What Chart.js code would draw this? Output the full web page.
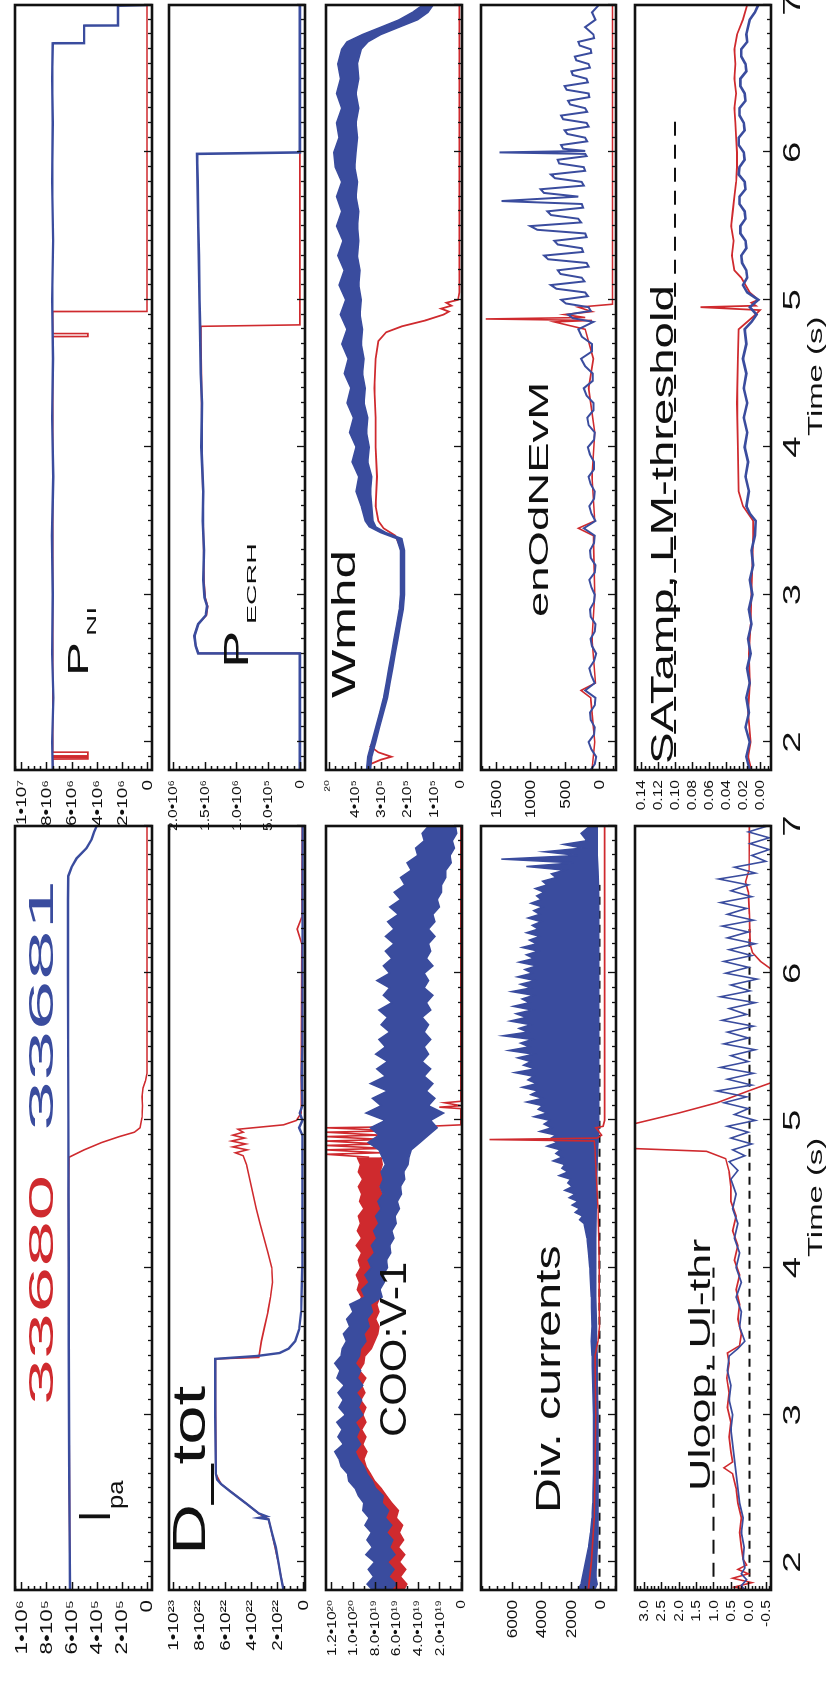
<!DOCTYPE html>
<html>
<head>
<meta charset="utf-8">
<script src="https://cdn.jsdelivr.net/npm/chart.js@4.4.0/dist/chart.umd.min.js"></script>
<style>
html, body { margin: 0; padding: 0; background: #fff; width: 828px; height: 1685px; overflow: hidden; }
#fig { position: absolute; left: 0; top: 0; width: 1685px; height: 828px; transform-origin: 0 0; transform: translate(0, 1685px) rotate(-90deg); }
#fig canvas { position: absolute; }
.lbl { position: absolute; white-space: nowrap; font-family: 'Liberation Sans', Arial, sans-serif; line-height: 1; }
.lbl span { display: inline-block; transform-origin: 0 50%; }
</style>
</head>
<body>
<div id="fig"></div>
<script>
// time axis (s)
const T_MIN = 1.81, T_MAX = 7.0;
const timeTicks = [2, 3, 4, 5, 6, 7];

// ---- I_pa ----
const ipaTicks = [0, 2e5, 4e5, 6e5, 8e5, 1e6];
const ipaLabels = ['0', '2•10⁵', '4•10⁵', '6•10⁵', '8•10⁵', '1•10⁶'];
const ipaBlue = [[1.81,6.12e5],[2.2,6.15e5],[2.6,6.18e5],[3.0,6.2e5],[3.5,6.22e5],[4.0,6.22e5],[4.5,6.24e5],[5.0,6.25e5],[5.5,6.27e5],[6.0,6.28e5],[6.5,6.28e5],[6.66,6.26e5],[6.72,6.0e5],[6.78,5.6e5],[6.85,4.8e5],[6.91,4.4e5],[6.96,4.2e5],[7.0,4.0e5]];
const ipaRed = [[1.81,6.12e5],[2.5,6.17e5],[3.5,6.22e5],[4.5,6.24e5],[4.75,6.2e5],[4.8,5.0e5],[4.85,3.6e5],[4.89,2.2e5],[4.92,1.0e5],[4.95,0.55e5],[5.02,0.4e5],[5.1,0.35e5],[5.16,0.4e5],[5.22,0.32e5],[5.27,0.12e5],[5.32,0],[7.0,0]];

// ---- P_NI ----
const pniTicks = [0, 2e6, 4e6, 6e6, 8e6, 1e7];
const pniLabels = ['0', '2•10⁶', '4•10⁶', '6•10⁶', '8•10⁶', '1•10⁷'];
const pniBlue = [[1.81,7.5e6],[2.0,7.55e6],[2.3,7.45e6],[2.6,7.55e6],[3.0,7.5e6],[3.4,7.56e6],[3.8,7.46e6],[4.2,7.55e6],[4.6,7.48e6],[5.0,7.55e6],[5.4,7.47e6],[5.8,7.55e6],[6.2,7.5e6],[6.5,7.55e6],[6.74,7.5e6],[6.741,5.0e6],[6.86,5.0e6],[6.861,2.3e6],[6.995,2.3e6],[7.0,0]];
const pniRed = [[1.81,7.5e6],[1.884,7.5e6],[1.885,4.7e6],[1.895,4.7e6],[1.896,7.5e6],[1.905,7.5e6],[1.906,4.7e6],[1.93,4.7e6],[1.931,7.5e6],[4.75,7.5e6],[4.751,4.7e6],[4.77,4.7e6],[4.771,7.5e6],[4.92,7.5e6],[4.921,0],[7.0,0]];

// ---- D_tot ----
const dtotTicks = [0, 2e22, 4e22, 6e22, 8e22, 1e23];
const dtotLabels = ['0', '2•10²²', '4•10²²', '6•10²²', '8•10²²', '1•10²³'];
const dtotBlue = [[1.81,1.5e22],[1.9,1.7e22],[2.0,1.9e22],[2.1,2.1e22],[2.2,2.4e22],[2.29,2.65e22],[2.3,3.4e22],[2.31,2.8e22],[2.33,3.4e22],[2.4,4.4e22],[2.48,5.6e22],[2.53,6.3e22],[2.56,6.6e22],[2.6,6.7e22],[3.0,6.75e22],[3.38,6.75e22],[3.4,3.5e22],[3.42,1.8e22],[3.45,1.1e22],[3.5,0.6e22],[3.58,0.3e22],[3.7,0.15e22],[4.0,0.06e22],[4.9,0.05e22],[4.95,0.3e22],[5.0,0.05e22],[5.05,0.25e22],[5.1,0.05e22],[5.3,0.1e22],[5.5,0.05e22],[7.0,0.03e22]];
const dtotRed = [[1.81,1.5e22],[2.0,1.9e22],[2.2,2.4e22],[2.29,2.65e22],[2.33,3.4e22],[2.4,4.4e22],[2.53,6.3e22],[2.6,6.7e22],[3.38,6.75e22],[3.39,3.4e22],[3.5,3.2e22],[3.6,2.95e22],[3.7,2.7e22],[3.8,2.5e22],[3.9,2.35e22],[4.0,2.4e22],[4.1,2.7e22],[4.2,3.0e22],[4.3,3.3e22],[4.4,3.6e22],[4.5,3.85e22],[4.6,4.1e22],[4.7,4.35e22],[4.76,4.6e22],[4.78,5.2e22],[4.8,4.3e22],[4.82,5.4e22],[4.84,4.4e22],[4.86,5.5e22],[4.88,4.5e22],[4.9,5.4e22],[4.92,4.6e22],[4.94,5.0e22],[4.97,1.5e22],[5.0,0.5e22],[5.05,0.15e22],[6.2,0.1e22],[6.3,0.45e22],[6.38,0.1e22],[7.0,0.05e22]];

// ---- P_ECRH ----
const pecTicks = [0, 5e5, 1e6, 1.5e6, 2e6];
const pecLabels = ['0', '5.0•10⁵', '1.0•10⁶', '1.5•10⁶', '2.0•10⁶'];
const pecBlue = [[1.81,0],[2.6,0],[2.601,1.6e6],[2.65,1.64e6],[2.72,1.66e6],[2.8,1.6e6],[2.86,1.48e6],[2.92,1.46e6],[2.98,1.5e6],[3.1,1.52e6],[3.3,1.51e6],[3.5,1.53e6],[3.7,1.52e6],[4.0,1.55e6],[4.3,1.54e6],[4.5,1.56e6],[4.8,1.57e6],[5.0,1.58e6],[5.3,1.59e6],[5.5,1.6e6],[5.8,1.61e6],[5.99,1.62e6],[6.0,0],[7.0,0]];
const pecRed = [[1.81,0],[2.6,0],[2.601,1.6e6],[2.65,1.64e6],[2.72,1.66e6],[2.8,1.6e6],[2.86,1.47e6],[2.92,1.45e6],[2.98,1.49e6],[3.1,1.51e6],[3.5,1.52e6],[4.0,1.54e6],[4.5,1.55e6],[4.82,1.56e6],[4.83,0],[7.0,0]];

// ---- COO:V-1 (values in 1e19) ----
const cooTicks = [0, 2e19, 4e19, 6e19, 8e19, 1e20, 1.2e20];
const cooLabels = ['0', '2.0•10¹⁹', '4.0•10¹⁹', '6.0•10¹⁹', '8.0•10¹⁹', '1.0•10²⁰', '1.2•10²⁰'];
const cooT = [1.81,1.85,1.9,1.95,2.0,2.05,2.1,2.15,2.2,2.25,2.3,2.35,2.4,2.45,2.5,2.55,2.6,2.65,2.7,2.75,2.8,2.85,2.9,2.95,3.0,3.05,3.1,3.15,3.2,3.25,3.3,3.35,3.4,3.45,3.5,3.55,3.6,3.65,3.7,3.75,3.8,3.85,3.9,3.95,4.0,4.05,4.1,4.15,4.2,4.25,4.3,4.35,4.4,4.45,4.5,4.55,4.6,4.65,4.7,4.75,
  4.8,4.85,4.9,4.95,5.0,5.05,5.1,5.15,5.2,5.25,5.3,5.35,5.4,5.45,5.5,5.55,5.6,5.65,5.7,5.75,5.8,5.85,5.9,5.95,6.0,6.05,6.1,6.15,6.2,6.25,6.3,6.35,6.4,6.45,6.5,6.55,6.6,6.65,6.7,6.75,6.8,6.85,6.9,6.95,7.0];
const cooBlueHi = [8.2,8.7,8.1,8.6,8.0,8.8,8.2,8.7,8.3,8.9,8.5,9.1,9.0,9.5,9.8,10.4,10.5,11.1,11.3,11.7,10.9,11.4,11.0,11.5,10.7,11.3,10.9,11.4,10.8,11.5,11.2,11.7,11.1,11.0,10.6,10.9,10.3,10.6,10.0,10.3,8.9,9.2,8.5,8.9,8.3,8.6,8.0,8.3,7.8,8.1,7.6,7.9,7.4,7.7,7.2,7.5,7.2,7.4,7.0,7.3,
  7.6,8.6,7.6,8.4,7.0,8.8,7.4,8.2,6.8,8.4,7.0,7.8,6.8,7.9,7.0,7.6,6.6,7.4,6.8,7.6,6.4,7.2,6.6,7.8,6.6,7.2,6.4,7.0,6.2,7.0,6.2,6.8,5.8,6.6,5.6,6.2,5.2,5.6,4.6,5.0,4.0,4.2,3.4,3.6,3.0];
const cooBlueLo = [6.5,6.0,6.7,6.2,6.8,6.1,6.6,6.3,6.9,6.4,7.0,6.7,7.3,7.2,7.9,8.2,8.7,9.0,9.5,9.8,9.3,9.7,9.4,9.8,9.1,9.5,9.2,9.7,9.1,9.6,9.3,9.8,9.4,9.3,8.8,9.0,8.5,8.7,8.2,8.4,7.3,7.5,7.1,7.2,6.8,6.9,6.5,6.6,6.2,6.4,6.0,6.1,5.7,5.9,5.5,5.6,5.2,5.3,4.9,4.8,
  4.6,3.8,3.0,2.2,2.8,1.6,3.0,2.4,3.2,2.6,3.4,2.8,3.6,3.0,3.4,2.8,3.4,3.0,3.6,2.8,3.2,2.6,3.4,3.0,3.4,2.6,3.2,2.8,3.0,2.4,3.0,2.4,2.6,2.0,2.2,1.8,1.8,1.4,1.4,0.9,1.0,0.6,0.8,0.4,0.5];
const cooRedHi = [7.3,7.8,7.1,7.7,7.2,7.9,7.3,7.8,7.4,8.0,7.6,8.1,8.2,8.8,9.2,9.6,9.8,10.2,10.4,10.1,10.6,10.2,10.6,10.1,10.5,10.2,10.8,10.3,10.7,10.2,10.9,10.4,10.6,10.0,9.6,9.3,9.2,9.6,9.3,9.5,9.2,9.6,9.4,9.7,9.3,9.5,9.2,9.7,9.2,9.6,9.3,9.5,9.0,9.4,9.2,9.5,9.1,9.5,9.3,9.6];
const cooRedLo = [5.3,5.0,5.6,5.1,5.7,5.2,5.8,5.3,5.7,5.4,6.0,5.8,6.4,6.9,7.4,8.0,8.4,8.8,9.0,8.7,9.1,8.8,9.2,8.8,9.1,8.8,9.3,8.9,9.2,8.8,9.4,9.0,8.9,8.3,8.0,7.7,7.6,7.9,7.6,7.8,7.5,7.9,7.6,7.8,7.4,7.7,7.5,7.8,7.4,7.7,7.5,7.7,7.2,7.5,7.3,7.6,7.2,7.5,7.3,7.4];
const cooRedEnd = [[4.75,8.5e19],[4.77,12.5e19],[4.78,7.5e19],[4.8,12.5e19],[4.81,7.0e19],[4.83,12.5e19],[4.84,7.5e19],[4.86,12.5e19],[4.87,7.0e19],[4.89,12.5e19],[4.9,7.5e19],[4.92,12.5e19],[4.93,6.0e19],[4.95,12.5e19],[4.96,3e19],[4.97,0],[5.08,0],[5.09,2e19],[5.1,0],[5.12,1.5e19],[5.13,0],[7.0,0]];

// ---- Wmhd ----
const wmTicks = [0, 1e5, 2e5, 3e5, 4e5, 5e5];
const wmLabels = ['0', '1•10⁵', '2•10⁵', '3•10⁵', '4•10⁵', '²⁰'];
const wmBlueHi = [[1.81,3.55e5],[1.9,3.5e5],[2.0,3.35e5],[2.1,3.2e5],[2.2,3.05e5],[2.3,2.9e5],[2.4,2.8e5],[2.5,2.7e5],[2.6,2.6e5],[2.7,2.5e5],[2.8,2.4e5],[2.9,2.3e5],[3.0,2.25e5],[3.1,2.25e5],[3.2,2.25e5],[3.3,2.25e5],[3.38,2.4e5],[3.42,3.0e5],[3.46,3.45e5],[3.5,3.6e5],[3.6,3.75e5],[3.7,3.95e5],[3.8,3.85e5],[3.9,4.1e5],[4.0,3.95e5],[4.1,4.2e5],[4.2,4.05e5],[4.3,4.3e5],[4.4,4.15e5],[4.5,4.4e5],[4.6,4.25e5],[4.7,4.5e5],[4.8,4.3e5],[4.9,4.55e5],[5.0,4.35e5],[5.1,4.6e5],[5.2,4.4e5],[5.3,4.65e5],[5.4,4.45e5],[5.5,4.7e5],[5.6,4.5e5],[5.7,4.7e5],[5.8,4.5e5],[5.9,4.75e5],[6.0,4.8e5],[6.1,4.6e5],[6.2,4.7e5],[6.3,4.5e5],[6.4,4.7e5],[6.5,4.55e5],[6.6,4.65e5],[6.7,4.5e5],[6.75,4.3e5],[6.8,3.7e5],[6.85,3.0e5],[6.9,2.3e5],[6.95,1.8e5],[7.0,1.4e5]];
const wmBlueLo = [[1.81,3.4e5],[1.9,3.35e5],[2.0,3.2e5],[2.1,3.05e5],[2.2,2.9e5],[2.3,2.75e5],[2.4,2.65e5],[2.5,2.55e5],[2.6,2.45e5],[2.7,2.35e5],[2.8,2.25e5],[2.9,2.15e5],[3.0,2.1e5],[3.1,2.1e5],[3.2,2.1e5],[3.3,2.1e5],[3.38,2.2e5],[3.42,2.8e5],[3.46,3.2e5],[3.5,3.3e5],[3.6,3.35e5],[3.7,3.4e5],[3.8,3.35e5],[3.9,3.5e5],[4.0,3.45e5],[4.1,3.55e5],[4.2,3.5e5],[4.3,3.65e5],[4.4,3.6e5],[4.5,3.7e5],[4.6,3.65e5],[4.7,3.75e5],[4.8,3.7e5],[4.9,3.8e5],[5.0,3.75e5],[5.1,3.85e5],[5.2,3.8e5],[5.3,3.9e5],[5.4,3.85e5],[5.5,3.9e5],[5.6,3.85e5],[5.7,3.95e5],[5.8,3.9e5],[5.9,4.0e5],[6.0,3.95e5],[6.1,3.9e5],[6.2,3.95e5],[6.3,3.85e5],[6.4,3.95e5],[6.5,3.85e5],[6.6,3.9e5],[6.7,3.75e5],[6.75,3.5e5],[6.8,3.0e5],[6.85,2.3e5],[6.9,1.6e5],[6.95,1.2e5],[7.0,1.0e5]];
const wmRed = [[1.81,3.5e5],[1.85,3.4e5],[1.88,3.0e5],[1.9,2.6e5],[1.93,3.1e5],[1.97,3.4e5],[2.0,3.3e5],[2.3,2.85e5],[2.6,2.55e5],[2.9,2.2e5],[3.3,2.2e5],[3.4,2.45e5],[3.45,2.9e5],[3.5,3.1e5],[3.6,3.2e5],[3.8,3.15e5],[4.0,3.2e5],[4.2,3.2e5],[4.4,3.25e5],[4.6,3.2e5],[4.72,3.1e5],[4.78,2.8e5],[4.82,2.2e5],[4.86,1.3e5],[4.9,0.6e5],[4.92,0.4e5],[4.94,0.7e5],[4.96,0.3e5],[4.98,0.5e5],[5.0,0.05e5],[5.05,0],[7.0,0]];

// ---- Div. currents ----
const divTicks = [0, 2000, 4000, 6000];
const divLabels = ['0', '2000', '4000', '6000'];
const divBlueHi = [[1.81,1500],[1.85,1300],[1.9,1200],[2.0,1000],[2.1,800],[2.2,650],[2.3,550],[2.4,500],[2.6,450],[2.8,450],[3.0,450],[3.2,500],[3.4,550],[3.5,600],[3.6,550],[3.8,600],[4.0,700],[4.1,800],[4.2,900],[4.3,1100],[4.325,1400],[4.35,1200],[4.375,1700],[4.4,1400],[4.425,1900],[4.45,1500],[4.475,2100],[4.5,1700],[4.525,2400],[4.55,1900],[4.575,2200],[4.6,2000],[4.625,2800],[4.65,2200],[4.675,2600],[4.7,2400],[4.725,3200],[4.75,2600],[4.775,3000],[4.8,2700],[4.825,3600],[4.85,2900],[4.875,3400],[4.9,3000],[4.925,4100],[4.95,3300],[4.975,3800],[5.0,3400],[5.025,4500],[5.05,3600],[5.075,4200],[5.1,3900],[5.125,5000],[5.15,3900],[5.175,4700],[5.2,4200],[5.225,5300],[5.25,4300],[5.275,4900],[5.3,4500],[5.325,5800],[5.35,4400],[5.375,5200],[5.4,4700],[5.425,5600],[5.45,4500],[5.475,6200],[5.5,4800],[5.525,5400],[5.55,4600],[5.575,6600],[5.6,4900],[5.625,5500],[5.65,4700],[5.675,6100],[5.7,5000],[5.725,5700],[5.75,4600],[5.775,5900],[5.8,4800],[5.825,5300],[5.85,4500],[5.875,6000],[5.9,4700],[5.925,5400],[5.95,4400],[5.975,5600],[6.0,4600],[6.025,5100],[6.05,4300],[6.075,5500],[6.1,4500],[6.125,5000],[6.15,4200],[6.175,5300],[6.2,4300],[6.225,4800],[6.25,4100],[6.275,5000],[6.3,4200],[6.325,4600],[6.35,4000],[6.375,4900],[6.4,4100],[6.425,4500],[6.45,3900],[6.475,4700],[6.5,4000],[6.525,4300],[6.55,3800],[6.575,4400],[6.6,3600],[6.625,3900],[6.65,3000],[6.675,3300],[6.7,2400],[6.725,5000],[6.75,1800],[6.775,6700],[6.8,1500],[6.825,3800],[6.85,1200],[6.875,2500],[6.9,900],[6.95,1300],[7.0,700]];
const divBlueLo = [[1.81,400],[1.85,200],[1.9,300],[2.0,250],[2.1,200],[2.2,150],[2.3,150],[2.4,150],[2.6,150],[2.8,150],[3.0,150],[3.2,200],[3.4,200],[3.5,250],[3.6,250],[3.8,300],[4.0,300],[4.2,300],[4.4,260],[4.6,230],[4.8,180],[4.9,120],[5.0,100],[5.5,100],[6.0,100],[6.5,100],[6.6,120],[6.7,150],[6.8,200],[7.0,200]];
const divRed = [[1.81,800],[2.0,600],[2.3,400],[2.6,350],[3.0,300],[3.4,350],[3.5,150],[3.6,50],[3.8,80],[4.0,60],[4.2,100],[4.4,150],[4.6,250],[4.8,350],[4.86,400],[4.87,7500],[4.88,200],[4.9,-100],[4.95,300],[4.96,-200],[5.0,-300],[7.0,-300]];
const divThr = [[1.9,50],[6.6,50]];

// ---- enOdNEvM ----
const enTicks = [0, 500, 1000, 1500];
const enLabels = ['0', '500', '1000', '1500'];
const enBlue = [[1.81,120],[1.85,60],[1.9,40],[1.95,110],[2.0,150],[2.05,70],[2.1,60],[2.15,120],[2.2,130],[2.25,60],[2.3,50],[2.35,200],[2.4,60],[2.45,110],[2.5,140],[2.55,70],[2.6,40],[2.65,100],[2.7,120],[2.75,60],[2.8,50],[2.85,120],[2.9,130],[2.95,70],[3.0,60],[3.05,110],[3.1,140],[3.15,60],[3.2,50],[3.25,120],[3.3,130],[3.35,70],[3.4,60],[3.45,220],[3.5,50],[3.55,110],[3.6,140],[3.65,70],[3.7,60],[3.75,120],[3.8,150],[3.85,70],[3.9,70],[3.95,130],[4.0,160],[4.05,70],[4.1,60],[4.15,150],[4.2,170],[4.25,80],[4.3,80],[4.35,180],[4.4,220],[4.45,90],[4.5,90],[4.55,200],[4.6,260],[4.65,100],[4.7,100],[4.75,250],[4.8,300],[4.85,80],[4.875,380],[4.9,450],[4.925,120],[4.95,150],[4.975,480],[5.0,550],[5.025,160],[5.05,200],[5.075,620],[5.1,700],[5.125,210],[5.15,250],[5.175,560],[5.2,600],[5.225,150],[5.25,180],[5.275,740],[5.3,800],[5.325,230],[5.35,250],[5.375,600],[5.4,650],[5.425,180],[5.45,200],[5.475,900],[5.5,1000],[5.525,260],[5.55,300],[5.575,700],[5.6,750],[5.625,230],[5.65,250],[5.67,1420],[5.7,300],[5.725,800],[5.75,850],[5.775,220],[5.8,250],[5.825,640],[5.85,700],[5.875,200],[5.9,220],[5.925,580],[5.95,600],[5.975,180],[5.99,200],[6.0,1450],[6.01,200],[6.025,520],[6.05,550],[6.075,170],[6.1,200],[6.125,460],[6.15,500],[6.175,150],[6.2,180],[6.225,520],[6.25,550],[6.275,170],[6.3,200],[6.325,420],[6.35,450],[6.375,140],[6.4,150],[6.425,470],[6.45,500],[6.475,160],[6.5,180],[6.525,380],[6.55,400],[6.575,130],[6.6,150],[6.625,330],[6.65,350],[6.675,110],[6.7,120],[6.725,280],[6.75,300],[6.775,70],[6.8,80],[6.85,200],[6.9,50],[6.95,100],[7.0,0]];
const enRed = [[1.81,100],[2.0,60],[2.3,120],[2.35,260],[2.4,50],[2.7,100],[3.0,60],[3.4,80],[3.45,300],[3.5,60],[3.8,100],[4.1,60],[4.4,150],[4.6,80],[4.8,200],[4.85,650],[4.86,100],[4.87,1650],[4.88,200],[4.9,500],[4.92,100],[4.95,300],[4.97,-200],[7.0,-200]];

// ---- Uloop, Ul-thr ----
const ulTicks = [-0.5, 0, 0.5, 1, 1.5, 2, 2.5, 3];
const ulLabels = ['-0.5', '0.0', '0.5', '1.0', '1.5', '2.0', '2.5', '3.0'];
const ulRed = [[1.81,0.0],[1.83,0.4],[1.86,-0.1],[1.89,0.45],[1.92,0.0],[1.95,0.3],[1.98,0.05],[2.02,0.15],[2.1,0.2],[2.2,0.25],[2.3,0.2],[2.4,0.3],[2.5,0.35],[2.6,0.45],[2.64,0.7],[2.68,0.45],[2.75,0.5],[2.85,0.55],[2.95,0.5],[3.05,0.6],[3.15,0.55],[3.25,0.62],[3.35,0.55],[3.42,0.6],[3.47,0.25],[3.55,0.2],[3.65,0.3],[3.75,0.25],[3.85,0.35],[3.95,0.25],[4.05,0.4],[4.15,0.3],[4.25,0.45],[4.35,0.35],[4.45,0.5],[4.55,0.5],[4.65,0.55],[4.74,0.65],[4.79,1.2],[4.81,3.4],[4.97,3.4],[5.05,2.0],[5.12,0.9],[5.2,0.0],[5.26,-0.7],[6.02,-0.7],[6.08,-0.35],[6.14,-0.12],[6.2,-0.05],[6.4,-0.03],[6.55,0.0],[6.62,0.08],[6.7,-0.02],[7.0,-0.03]];
const ulBlue = [[1.81,0.1],[1.84,0.2],[1.88,0.05],[1.92,0.2],[1.96,0.1],[2.02,0.15],[2.1,0.12],[2.2,0.2],[2.3,0.15],[2.4,0.25],[2.5,0.3],[2.6,0.35],[2.7,0.4],[2.8,0.45],[2.9,0.5],[3.0,0.45],[3.1,0.55],[3.2,0.5],[3.3,0.6],[3.4,0.55],[3.45,0.3],[3.5,0.1],[3.6,0.25],[3.7,0.2],[3.8,0.35],[3.9,0.2],[4.0,0.35],[4.1,0.25],[4.2,0.4],[4.3,0.3],[4.4,0.45],[4.5,0.35],[4.6,0.5],[4.66,0.3],[4.72,0.55],[4.76,0.1],[4.8,0.45],[4.84,-0.1],[4.88,0.5],[4.92,0.0],[4.96,0.6],[5.0,-0.2],[5.04,0.4],[5.08,0.0],[5.12,0.7],[5.16,0.05],[5.2,0.9],[5.24,-0.1],[5.28,0.6],[5.32,-0.15],[5.36,0.8],[5.4,0.0],[5.44,0.5],[5.48,-0.2],[5.52,0.7],[5.56,0.0],[5.6,0.6],[5.64,-0.15],[5.68,0.75],[5.72,0.05],[5.76,0.55],[5.8,-0.2],[5.84,0.8],[5.88,-0.05],[5.92,0.5],[5.96,-0.25],[6.0,0.65],[6.04,0.0],[6.08,0.7],[6.12,-0.1],[6.16,0.55],[6.2,-0.2],[6.24,0.6],[6.28,0.0],[6.32,0.75],[6.36,-0.15],[6.4,0.6],[6.44,0.05],[6.48,0.8],[6.52,-0.1],[6.56,0.5],[6.6,0.0],[6.64,0.85],[6.68,-0.2],[6.72,0.4],[6.76,-0.5],[6.8,-0.1],[6.84,-0.6],[6.88,-0.05],[6.92,-0.6],[6.96,0.0],[7.0,-0.55]];
const ulThrHigh = [[1.9,1.0],[4.0,1.0]];
const ulThrLow = [[1.9,-0.03],[6.3,-0.03]];

// ---- SATamp, LM-threshold ----
const satTicks = [0, 0.02, 0.04, 0.06, 0.08, 0.10, 0.12, 0.14];
const satLabels = ['0.00', '0.02', '0.04', '0.06', '0.08', '0.10', '0.12', '0.14'];
const satBlue = [[1.81,0.012],[1.9,0.016],[2.0,0.012],[2.1,0.017],[2.2,0.013],[2.3,0.016],[2.4,0.012],[2.5,0.015],[2.6,0.011],[2.7,0.014],[2.8,0.01],[2.9,0.013],[3.0,0.009],[3.1,0.012],[3.2,0.008],[3.3,0.01],[3.4,0.006],[3.5,0.005],[3.55,0.012],[3.6,0.016],[3.7,0.013],[3.8,0.017],[3.9,0.014],[4.0,0.018],[4.1,0.015],[4.2,0.019],[4.3,0.015],[4.4,0.019],[4.5,0.016],[4.6,0.02],[4.7,0.016],[4.8,0.018],[4.85,0.01],[4.9,0.004],[4.95,0.012],[5.0,0.002],[5.05,0.015],[5.1,0.02],[5.15,0.015],[5.2,0.016],[5.25,0.021],[5.3,0.022],[5.35,0.016],[5.4,0.017],[5.45,0.023],[5.5,0.023],[5.55,0.017],[5.6,0.018],[5.65,0.024],[5.7,0.024],[5.75,0.017],[5.8,0.018],[5.85,0.025],[5.9,0.024],[5.95,0.018],[6.0,0.019],[6.05,0.025],[6.1,0.025],[6.15,0.018],[6.2,0.019],[6.25,0.024],[6.3,0.024],[6.35,0.017],[6.4,0.018],[6.45,0.023],[6.5,0.023],[6.55,0.016],[6.6,0.017],[6.65,0.022],[6.7,0.022],[6.75,0.015],[6.8,0.016],[6.85,0.014],[6.9,0.012],[6.95,0.006],[7.0,0.002]];
const satRed = [[1.81,0.01],[1.9,0.014],[2.0,0.011],[2.2,0.014],[2.4,0.012],[2.6,0.013],[2.8,0.011],[3.0,0.01],[3.2,0.009],[3.4,0.008],[3.5,0.008],[3.6,0.02],[3.7,0.025],[4.0,0.026],[4.3,0.027],[4.6,0.026],[4.8,0.025],[4.85,0.015],[4.9,0.005],[4.93,0.0],[4.95,0.07],[4.96,0.005],[4.98,0.01],[5.0,0.002],[5.05,0.012],[5.15,0.022],[5.2,0.03],[5.3,0.033],[5.4,0.031],[5.5,0.034],[5.6,0.032],[5.7,0.03],[5.8,0.028],[5.9,0.027],[6.0,0.027],[6.1,0.028],[6.2,0.029],[6.3,0.03],[6.4,0.028],[6.5,0.03],[6.6,0.029],[6.7,0.03],[6.8,0.027],[6.9,0.02],[7.0,0.015]];
const satThr = [[1.9,0.1],[6.25,0.1]];

// ---- layout (original landscape frame, rotated afterwards) ----
const RED = '#cf2a2e', BLUE = '#3a4c9e';
const W_AXIS = 80, PAD = 14, X_AXIS_H = 44;
const colArea = [[95, 859], [915, 1680]];
const rowArea = [[15, 152], [169, 305], [326, 462], [481, 616], [635, 771]];
const FONT = "'Liberation Sans', 'DejaVu Sans', Arial, sans-serif";
const fig = document.getElementById('fig');

const xy = arr => arr.map(([x, y]) => ({ x, y }));
const zip = (ts, vs, unit) => vs.map((v, i) => [ts[i], v * unit]);
function line(arr, color, width, extra) {
  return Object.assign({ data: xy(arr), borderColor: color, borderWidth: width, pointRadius: 0, fill: false }, extra || {});
}
function band(hi, lo, color) {
  return [
    { data: xy(hi), borderColor: color, borderWidth: 1.5, backgroundColor: color, pointRadius: 0, fill: '+1' },
    { data: xy(lo), borderColor: color, borderWidth: 1.5, pointRadius: 0, fill: false }
  ];
}
const dashed = (arr, dash) => line(arr, '#111', 2, { borderDash: dash });

// frame, inward tick marks, and the (horizontally stretched) tick labels
const framePlugin = {
  id: 'frame',
  afterDatasetsDraw(chart, args, o) {
    const { ctx, chartArea: a } = chart;
    const xs = chart.scales.x, ys = chart.scales.y;
    ctx.save();
    ctx.strokeStyle = '#111';
    ctx.lineWidth = 1.3;
    ctx.beginPath();
    for (let i = Math.ceil(T_MIN * 10); i <= T_MAX * 10; i++) {
      const px = Math.round(xs.getPixelForValue(i / 10)) + 0.5;
      const len = i % 10 === 0 ? 8 : 4;
      ctx.moveTo(px, a.bottom); ctx.lineTo(px, a.bottom - len);
    }
    const step = o.minor;
    for (let k = Math.ceil(ys.min / step); k * step <= ys.max; k++) {
      const v = k * step;
      const major = o.yTicks.some(t => Math.abs(t - v) < step / 100);
      const py = Math.round(ys.getPixelForValue(v)) + 0.5;
      ctx.moveTo(a.left, py); ctx.lineTo(a.left + (major ? 8 : 4), py);
    }
    ctx.stroke();
    ctx.lineWidth = 2.6;
    ctx.strokeRect(a.left, a.top, a.right - a.left, a.bottom - a.top);

    ctx.fillStyle = '#111';
    ctx.font = o.yFont + 'px ' + FONT;
    ctx.textAlign = 'right';
    ctx.textBaseline = 'middle';
    o.yTicks.forEach((v, i) => {
      ctx.save();
      ctx.translate(a.left - 10, ys.getPixelForValue(v));
      ctx.scale(o.ySx, 1);
      ctx.fillText(o.yLabels[i], 0, 1);
      ctx.restore();
    });
    if (o.xLabels) {
      ctx.font = '24px ' + FONT;
      ctx.textAlign = 'center';
      ctx.textBaseline = 'alphabetic';
      timeTicks.forEach(t => {
        ctx.save();
        ctx.translate(xs.getPixelForValue(t), a.bottom + 29);
        ctx.scale(1.6, 1);
        ctx.fillText(String(t), 0, 0);
        ctx.restore();
      });
    }
    ctx.restore();
  }
};

function panel(col, row, yMin, yMax, yTicks, yLabels, tk, datasets) {
  const [x0, x1] = colArea[col], [y0, y1] = rowArea[row];
  const bottomRow = row === 4;
  const xh = bottomRow ? X_AXIS_H : 0;
  const w = (x1 - x0) + W_AXIS + 2 * PAD, h = (y1 - y0) + 2 * PAD + xh;
  const cv = document.createElement('canvas');
  cv.width = w; cv.height = h;
  cv.style.left = (x0 - W_AXIS - PAD) + 'px';
  cv.style.top = (y0 - PAD) + 'px';
  cv.style.width = w + 'px'; cv.style.height = h + 'px';
  fig.appendChild(cv);
  const chart = new Chart(cv, {
    type: 'line',
    data: { datasets },
    options: {
      responsive: false, animation: false, devicePixelRatio: 1,
      layout: { padding: PAD },
      elements: { line: { tension: 0 }, point: { radius: 0 } },
      plugins: {
        legend: { display: false }, tooltip: { enabled: false },
        frame: { minor: tk.minor, yFont: tk.font, ySx: tk.sx, yTicks, yLabels, xLabels: bottomRow }
      },
      scales: {
        x: {
          type: 'linear', min: T_MIN, max: T_MAX,
          grid: { display: false }, border: { display: false },
          ticks: { display: false },
          afterFit: s => { s.height = xh; }
        },
        y: {
          type: 'linear', min: yMin, max: yMax,
          grid: { display: false }, border: { display: false },
          ticks: { display: false },
          afterFit: s => { s.width = W_AXIS; }
        }
      }
    },
    plugins: [framePlugin]
  });
  chart.offX = x0 - W_AXIS - PAD;
  return chart;
}

// text in the rotated frame, stretched to span t0..t1 on the chart's time scale
function label(chart, t0, t1, base, size, str, color) {
  const d = document.createElement('div');
  d.className = 'lbl';
  d.style.fontSize = size + 'px';
  d.style.color = color || '#111';
  const xa = chart.offX + chart.scales.x.getPixelForValue(t0);
  const xb = chart.offX + chart.scales.x.getPixelForValue(t1);
  d.style.left = xa + 'px';
  d.style.top = (base - 0.8465 * size) + 'px';
  const sp = document.createElement('span');
  sp.textContent = str;
  d.appendChild(sp);
  fig.appendChild(d);
  sp.style.transform = 'scaleX(' + ((xb - xa) / sp.offsetWidth).toFixed(3) + ')';
}

// left column
const cIpa = panel(0, 0, -0.04e6, 1.05e6, ipaTicks, ipaLabels, { minor: 5e4, font: 16, sx: 1.4 },
  [line(ipaBlue, BLUE, 2.4), line(ipaRed, RED, 1.6)]);
const cDtot = panel(0, 1, -0.15e22, 1.03e23, dtotTicks, dtotLabels, { minor: 5e21, font: 14, sx: 1.35 },
  [line(dtotBlue, BLUE, 2.4), line(dtotRed, RED, 1.6)]);
const cCoo = panel(0, 2, -0.1e19, 1.25e20, cooTicks, cooLabels, { minor: 1e19, font: 12, sx: 1.3 },
  [...band(zip(cooT, cooBlueHi, 1e19), zip(cooT, cooBlueLo, 1e19), BLUE),
   line(cooRedEnd, RED, 1.6),
   ...band(zip(cooT, cooRedHi, 1e19), zip(cooT, cooRedLo, 1e19), RED)]);
const cDiv = panel(0, 3, -1070, 8070, divTicks, divLabels, { minor: 500, font: 15, sx: 1.15 },
  [line(divRed, RED, 1.6), ...band(divBlueHi, divBlueLo, BLUE), dashed(divThr, [8, 6])]);
const cUl = panel(0, 4, -0.65, 3.25, ulTicks, ulLabels, { minor: 0.1, font: 12, sx: 1.3 },
  [line(ulBlue, BLUE, 1.6), line(ulRed, RED, 1.6), dashed(ulThrHigh, [14, 9]), dashed(ulThrLow, [8, 6])]);

// right column
const cPni = panel(1, 0, -0.4e6, 1.05e7, pniTicks, pniLabels, { minor: 5e5, font: 14, sx: 1.35 },
  [line(pniBlue, BLUE, 2.4), line(pniRed, RED, 1.6)]);
const cPec = panel(1, 1, -0.08e6, 2.06e6, pecTicks, pecLabels, { minor: 1e5, font: 12, sx: 1.3 },
  [line(pecBlue, BLUE, 2.6), line(pecRed, RED, 1.6)]);
const cWm = panel(1, 2, -0.1e5, 5.1e5, wmTicks, wmLabels, { minor: 2.5e4, font: 12, sx: 1.3 },
  [...band(wmBlueHi, wmBlueLo, BLUE), line(wmRed, RED, 1.8)]);
const cEn = panel(1, 3, -250, 1720, enTicks, enLabels, { minor: 100, font: 15, sx: 1.15 },
  [line(enBlue, BLUE, 2), line(enRed, RED, 1.6)]);
const cSat = panel(1, 4, -0.013, 0.147, satTicks, satLabels, { minor: 0.005, font: 12, sx: 1.3 },
  [line(satBlue, BLUE, 2.6), line(satRed, RED, 1.8), dashed(satThr, [14, 9])]);

// panel labels
label(cIpa, 2.27, 2.35, 110, 45, 'I');
label(cIpa, 2.36, 2.55, 124, 22, 'pa');
label(cIpa, 3.07, 4.63, 53, 35, '33680', RED);
label(cIpa, 4.93, 6.63, 53, 35, '33681', BLUE);
label(cDtot, 2.05, 3.2, 205, 46, 'D_tot');
label(cCoo, 2.85, 4.04, 406, 36, 'COO:V-1');
label(cDiv, 2.33, 4.15, 560, 35, 'Div. currents');
label(cUl, 2.48, 4.19, 710, 30, 'Uloop, Ul-thr');
label(cPni, 2.45, 2.68, 88, 30, 'P');
label(cPni, 2.72, 2.92, 96, 13, 'NI');
label(cPec, 2.5, 2.75, 248, 35, 'P');
label(cPec, 2.8, 3.35, 256, 13, 'ECRH');
label(cWm, 2.3, 3.3, 355, 33, 'Wmhd');
label(cEn, 2.85, 4.45, 549, 27, 'enOdNEvM');
label(cSat, 1.85, 5.1, 673, 31, 'SATamp, LM-threshold');
label(cUl, 4.075, 4.89, 822, 20, 'Time (s)');
label(cSat, 4.075, 4.89, 822, 20, 'Time (s)');
</script>
</body>
</html>
